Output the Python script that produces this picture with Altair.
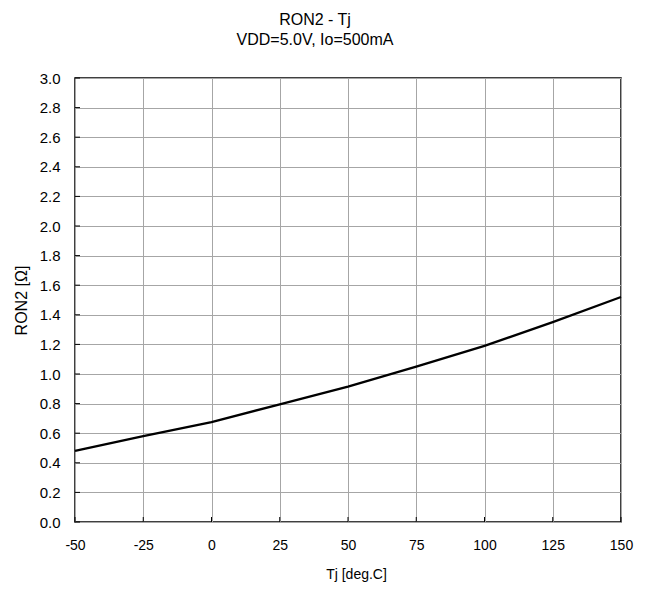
import altair as alt
import pandas as pd

tj = [-50, -25, 0, 25, 50, 75, 100, 125, 150]
ron2 = [0.48, 0.58, 0.675, 0.795, 0.915, 1.05, 1.19, 1.35, 1.52]
x_ticks = [-50, -25, 0, 25, 50, 75, 100, 125, 150]
y_ticks = [0.0, 0.2, 0.4, 0.6, 0.8, 1.0, 1.2, 1.4, 1.6, 1.8, 2.0, 2.2, 2.4, 2.6, 2.8, 3.0]

df = pd.DataFrame({"Tj": tj, "RON2": ron2})
ydf = pd.DataFrame({"v": y_ticks})
xdf = pd.DataFrame({"v": x_ticks})

FONT = "Liberation Sans"
W, H = 546, 444

xscale = alt.Scale(domain=[-50, 150], nice=False, zero=False)
yscale = alt.Scale(domain=[0, 3.0], nice=False, zero=False)

xaxis = alt.Axis(values=x_ticks, title="Tj [deg.C]",
                 labelExpr="'' + datum.value",
                 grid=True, gridColor="#a6a6a6", gridWidth=1,
                 ticks=False, domain=False, labelPadding=16,
                 labelFlush=False, labelOverlap=False, labelBound=False,
                 labelFont=FONT, labelFontSize=14, labelColor="black",
                 titleFont=FONT, titleFontSize=14, titleFontWeight="normal",
                 titleColor="black", titlePadding=15, titleX=281)
yaxis = alt.Axis(values=y_ticks, title="RON2 [Ω]",
                 labelExpr="format(datum.value, '.1f')",
                 grid=True, gridColor="#a6a6a6", gridWidth=1,
                 ticks=False, domain=False, labelPadding=15,
                 labelFlush=False, labelOverlap=False, labelBound=False,
                 labelFont=FONT, labelFontSize=15, labelColor="black",
                 titleFont=FONT, titleFontSize=16, titleFontWeight="normal",
                 titleColor="black", titlePadding=10)

line = alt.Chart(df).mark_line(color="black", strokeWidth=2.3).encode(
    x=alt.X("Tj:Q", scale=xscale, axis=xaxis),
    y=alt.Y("RON2:Q", scale=yscale, axis=yaxis),
)

yt = alt.Chart(ydf).mark_rule(color="black", strokeWidth=1).encode(
    y=alt.Y("v:Q", scale=yscale, axis=yaxis), x=alt.value(0), x2=alt.value(5)
)
xt = alt.Chart(xdf).mark_rule(color="black", strokeWidth=1).encode(
    x=alt.X("v:Q", scale=xscale, axis=xaxis), y=alt.value(H), y2=alt.value(H - 5)
)

chart = alt.layer(line, yt, xt).properties(
    width=W, height=H,
    title=alt.TitleParams(["RON2 - Tj", "VDD=5.0V, Io=500mA"], font=FONT,
                          fontSize=16, fontWeight="normal", color="black",
                          anchor="middle", dx=-33, offset=23, lineHeight=20),
    autosize=alt.AutoSizeParams(type="none"),
    padding={"left": 67, "top": 70, "right": 21, "bottom": 61},
).configure_view(stroke="black", strokeWidth=1.5)

chart.save("out.html", embed_options={"renderer": "svg", "actions": False})
